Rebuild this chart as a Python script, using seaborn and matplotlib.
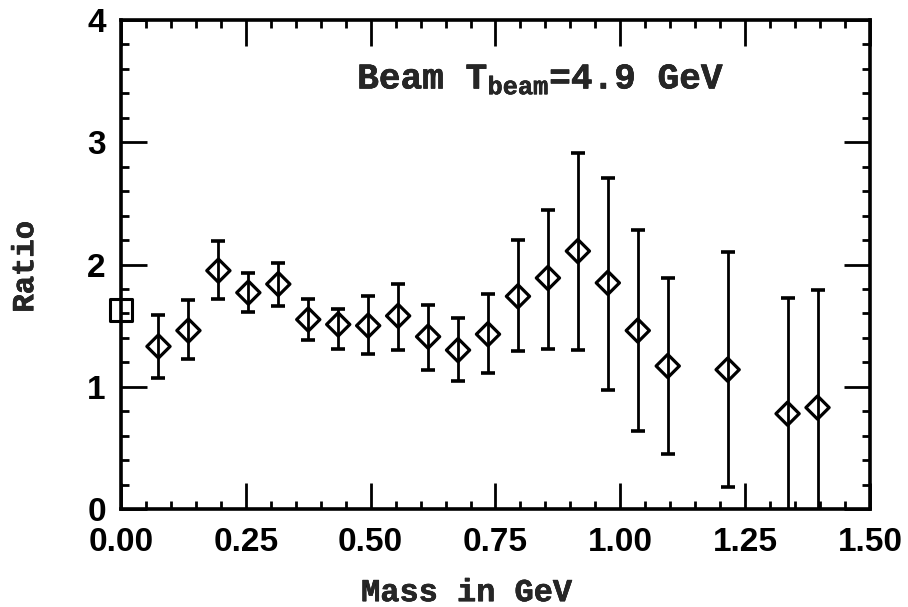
import matplotlib
matplotlib.use('Agg')
from matplotlib import pyplot as plt
from matplotlib import patheffects as pe
from matplotlib.ticker import MultipleLocator, FormatStrFormatter
import seaborn as sns
import pandas as pd

sns.set_theme(style = 'ticks')
plt.rcParams['font.family'] = ['Liberation Mono', 'DejaVu Sans']
plt.rcParams['font.weight'] = 'bold'
plt.rcParams['mathtext.fontset'] = 'custom'
plt.rcParams['mathtext.rm'] = 'Liberation Mono:bold'
plt.rcParams['mathtext.bf'] = 'Liberation Mono:bold'
plt.rcParams['mathtext.it'] = 'Liberation Mono:bold'

#ratio per mass bin
mass = [0.075, 0.135, 0.195, 0.255, 0.315, 0.375, 0.435, 0.495, 0.555, 0.615, 0.675,
        0.735, 0.795, 0.855, 0.915, 0.975, 1.035, 1.095, 1.215, 1.335, 1.395]
ratio = [1.33, 1.46, 1.95, 1.77, 1.84, 1.55, 1.51, 1.50, 1.58, 1.41, 1.30,
         1.43, 1.74, 1.89, 2.11, 1.85, 1.46, 1.17, 1.14, 0.78, 0.83]
ratio_hi = [1.59, 1.71, 2.19, 1.93, 2.01, 1.72, 1.64, 1.74, 1.84, 1.67, 1.56,
            1.76, 2.20, 2.45, 2.91, 2.71, 2.28, 1.89, 2.10, 1.73, 1.79]
ratio_lo = [1.07, 1.23, 1.72, 1.61, 1.66, 1.38, 1.31, 1.27, 1.30, 1.14, 1.05,
            1.11, 1.29, 1.31, 1.30, 0.97, 0.64, 0.45, 0.18, -0.18, -0.13]

#single point at zero mass (square)
mass0 = [0.0]
ratio0 = [1.63]

df = pd.DataFrame({'mass': mass, 'ratio': ratio, 'hi': ratio_hi, 'lo': ratio_lo})
df0 = pd.DataFrame({'mass': mass0, 'ratio': ratio0})

fig = plt.figure(figsize = (9.08, 6.07), dpi = 100)
ax = fig.add_axes([0.1333, 0.1614, 0.8248, 0.8056])

ax.errorbar(df['mass'], df['ratio'],
            yerr = [df['ratio'] - df['lo'], df['hi'] - df['ratio']],
            fmt = 'none', ecolor = 'black', elinewidth = 2.0, capsize = 5, capthick = 2.6)
sns.scatterplot(data = df, x = 'mass', y = 'ratio', marker = 'D', s = 140,
                facecolor = 'none', edgecolor = 'black', linewidth = 2.3, ax = ax, zorder = 3)
sns.scatterplot(data = df0, x = 'mass', y = 'ratio', marker = 's', s = 260,
                facecolor = 'none', edgecolor = 'black', linewidth = 2.2, ax = ax,
                zorder = 4, clip_on = False)

ax.set_xlim(0, 1.5)
ax.set_ylim(0, 4)
ax.xaxis.set_major_locator(MultipleLocator(0.25))
ax.xaxis.set_minor_locator(MultipleLocator(0.05))
ax.xaxis.set_major_formatter(FormatStrFormatter('%.2f'))
ax.yaxis.set_major_locator(MultipleLocator(1))
ax.yaxis.set_minor_locator(MultipleLocator(0.2))

ax.tick_params(which = 'both', direction = 'in', top = True, right = True, colors = 'black')
ax.tick_params(which = 'major', length = 19, width = 2.0, labelsize = 24,
               labelfontfamily = 'Liberation Sans')
ax.tick_params(which = 'minor', length = 6, width = 2.0)
ax.tick_params(axis = 'x', which = 'major', pad = 13)
ax.tick_params(axis = 'y', which = 'major', pad = 11)
for lbl in ax.get_xticklabels() + ax.get_yticklabels():
    lbl.set_fontweight('bold')
for sp in ax.spines.values():
    sp.set_linewidth(2.6)
    sp.set_color('black')

#slightly heavier strokes for the typewriter text
thick = [pe.withStroke(linewidth = 0.4, foreground = 'black')]

ax.set_xlabel('Mass in GeV', fontsize = 23, fontweight = 'bold', va = 'center',
              path_effects = thick)
ax.xaxis.set_label_coords(0.462, -0.172)
ax.set_ylabel('Ratio', fontsize = 22, fontweight = 'bold', va = 'center',
              path_effects = thick)
ax.yaxis.set_label_coords(-0.128, 0.495)

ax.text(0.473, 3.44, r'Beam T$_{\mathbf{beam}}$=4.9 GeV', fontsize = 26,
        fontweight = 'bold', ha = 'left', va = 'baseline', path_effects = thick)

plt.savefig('out.png', dpi = 100)
